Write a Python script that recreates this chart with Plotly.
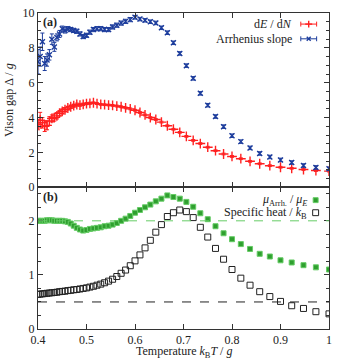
import plotly.graph_objects as go
from plotly.subplots import make_subplots

# ---------------- data ----------------
temperature = [0.4, 0.4045, 0.4091, 0.4138, 0.4186, 0.4235, 0.4286, 0.4337, 0.439, 0.4444,
               0.45, 0.4557, 0.4615, 0.4675, 0.4737, 0.48, 0.4865, 0.4932, 0.5, 0.507,
               0.5143, 0.5217, 0.5294, 0.5373, 0.5455, 0.5538, 0.5625, 0.5714, 0.5806, 0.5902,
               0.6, 0.6102, 0.6207, 0.6316, 0.6429, 0.6545, 0.6667, 0.6792, 0.6923, 0.7059,
               0.72, 0.7347, 0.75, 0.766, 0.7826, 0.8, 0.8182, 0.8372, 0.8571, 0.878,
               0.9, 0.9231, 0.9474, 0.973, 1.0]

dEdN = [3.6, 3.85, 3.7, 3.5, 3.55, 3.8, 3.95, 4.0, 4.1, 4.25,
        4.35, 4.45, 4.55, 4.62, 4.68, 4.75, 4.72, 4.76, 4.8, 4.82,
        4.85, 4.8, 4.76, 4.74, 4.72, 4.7, 4.66, 4.62, 4.56, 4.5,
        4.42, 4.29, 4.15, 4.0, 3.89, 3.74, 3.53, 3.33, 3.15, 2.92,
        2.69, 2.51, 2.3, 2.1, 1.91, 1.77, 1.64, 1.49, 1.35, 1.24,
        1.15, 1.09, 1.02, 0.96, 0.93]
dEdN_err = [0.3, 0.45, 0.3, 0.3, 0.25, 0.25, 0.2, 0.2, 0.18, 0.15,
            0.15, 0.12, 0.1, 0.1, 0.08, 0.08, 0.07, 0.07, 0.06, 0.06,
            0.05, 0.05, 0.05, 0.05, 0.05, 0.05, 0.05, 0.05, 0.05, 0.05,
            0.05, 0.05, 0.05, 0.05, 0.05, 0.05, 0.05, 0.05, 0.05, 0.05,
            0.05, 0.05, 0.05, 0.05, 0.05, 0.05, 0.05, 0.05, 0.05, 0.05,
            0.05, 0.05, 0.05, 0.05, 0.05]

arrhenius = [7.2, 7.5, 8.35, 7.1, 7.3, 7.6, 8.5, 8.05, 8.6, 8.8,
             9.1, 9.0, 9.1, 9.05, 9.0, 8.95, 8.8, 8.65, 8.72, 8.9,
             9.05, 9.1, 9.1, 9.05, 9.05, 9.2, 9.3, 9.42, 9.52, 9.62,
             9.75, 9.65, 9.58, 9.5, 9.43, 9.15, 8.87, 8.29, 7.68, 6.98,
             6.25, 5.39, 4.71, 4.06, 3.48, 2.96, 2.62, 2.26, 1.94, 1.74,
             1.57, 1.42, 1.25, 1.14, 1.06]
arrhenius_err = [0.7, 0.55, 0.5, 0.4, 0.35, 0.3, 0.3, 0.25, 0.2, 0.2,
                 0.15, 0.15, 0.12, 0.12, 0.12, 0.12, 0.12, 0.12, 0.12, 0.12,
                 0.12, 0.12, 0.12, 0.12, 0.12, 0.12, 0.12, 0.12, 0.12, 0.12,
                 0.1, 0.1, 0.1, 0.1, 0.1, 0.1, 0.1, 0.1, 0.1, 0.1,
                 0.1, 0.1, 0.1, 0.1, 0.1, 0.1, 0.1, 0.1, 0.1, 0.1,
                 0.1, 0.1, 0.1, 0.1, 0.1]

mu_ratio = [2.0, 2.0, 2.0, 2.0, 2.01, 2.01, 2.01, 2.0, 2.0, 2.0, 2.0, 1.99,
            1.98, 1.95, 1.91, 1.87, 1.84, 1.82, 1.83, 1.85,
            1.86, 1.87, 1.88, 1.9, 1.91, 1.93, 1.96, 2.0, 2.04, 2.09,
            2.15, 2.2, 2.25, 2.3, 2.36, 2.41, 2.47, 2.44, 2.41, 2.35,
            2.26, 2.14, 2.03, 1.9, 1.77, 1.66, 1.57, 1.48, 1.39, 1.34,
            1.27, 1.23, 1.18, 1.14, 1.10]

specific_heat = [0.64, 0.645, 0.65, 0.655, 0.66, 0.665, 0.67, 0.675, 0.68, 0.69,
                 0.695, 0.70, 0.71, 0.715, 0.725, 0.73, 0.74, 0.75, 0.76, 0.775,
                 0.79, 0.81, 0.83, 0.855, 0.885, 0.92, 0.97, 1.03, 1.09, 1.17,
                 1.26, 1.37, 1.50, 1.64, 1.79, 1.93, 2.08, 2.15, 2.20, 2.17,
                 2.06, 1.88, 1.70, 1.49, 1.29, 1.10, 0.94, 0.81, 0.69, 0.60,
                 0.51, 0.43, 0.38, 0.32, 0.28]

ref_green = 2.0
ref_black = 0.5

x_tickvals = [0.4, 0.5, 0.6, 0.7, 0.8, 0.9, 1.0]
x_ticktext = ["0.4", "0.5", "0.6", "0.7", "0.8", "0.9", "1"]

# ---------------- styles ----------------
RED = "#ff2020"
BLUE = "#1c3c9c"
GREEN = "#2f9f2f"
LGREEN = "#66cc66"
BLACK = "#222222"
FONT = "Liberation Serif, Times New Roman, serif"

W, H = 338, 363
ML, MR, MT, MB = 38, 6, 7, 34
PW, PH = W - ML - MR, H - MT - MB


def px2paper(px, py):
    return (px - ML) / PW, (H - MB - py) / PH


split = (H - MB - 184.6) / PH

fig = make_subplots(rows=2, cols=1, shared_xaxes=True, vertical_spacing=0,
                    row_heights=[1 - split, split])

fig.add_trace(go.Scatter(
    x=temperature, y=dEdN, mode="markers", name="dE/dN",
    error_y=dict(type="data", array=dEdN_err, color=RED, thickness=1, width=2),
    marker=dict(symbol="cross-thin", size=7, color=RED, line=dict(color=RED, width=1.4)),
    showlegend=False), row=1, col=1)

fig.add_trace(go.Scatter(
    x=temperature, y=arrhenius, mode="markers", name="Arrhenius slope",
    error_y=dict(type="data", array=arrhenius_err, color=BLUE, thickness=1, width=2),
    marker=dict(symbol="x-thin", size=5, color=BLUE, line=dict(color=BLUE, width=1.4)),
    showlegend=False), row=1, col=1)

fig.add_trace(go.Scatter(
    x=temperature, y=mu_ratio, mode="markers", name="mu",
    marker=dict(symbol="square", size=5, color=GREEN,
                line=dict(color=LGREEN, width=1)),
    showlegend=False), row=2, col=1)

fig.add_trace(go.Scatter(
    x=temperature, y=specific_heat, mode="markers", name="C",
    marker=dict(symbol="square-open", size=6, color=BLACK, line=dict(color=BLACK, width=1)),
    showlegend=False), row=2, col=1)

# reference lines
fig.add_shape(type="line", xref="x2 domain", yref="y2", x0=0, x1=1,
              y0=ref_green, y1=ref_green, line=dict(color=LGREEN, width=1, dash="dash"))
fig.add_shape(type="line", xref="x2 domain", yref="y2", x0=0, x1=1,
              y0=ref_black, y1=ref_black, line=dict(color=BLACK, width=1, dash="dash"))

axis_common = dict(showline=True, linecolor="#333333", linewidth=1, mirror="allticks",
                   ticks="inside", ticklen=5, tickcolor="#333333", tickwidth=1,
                   showgrid=False, zeroline=False,
                   tickfont=dict(family=FONT, size=12, color="#222222"))

fig.update_xaxes(range=[0.4, 1.0], tickvals=x_tickvals, ticktext=x_ticktext,
                 **axis_common)
fig.update_xaxes(showticklabels=False, row=1, col=1)

fig.update_yaxes(range=[0, 10], tickvals=[0, 2, 4, 6, 8, 10],
                 minor=dict(dtick=0.5, ticks="inside", ticklen=3, tickcolor="#333333"),
                 title=dict(text="Vison gap Δ / <i>g</i>",
                            font=dict(family=FONT, size=12, color="#222222"), standoff=6),
                 row=1, col=1, **axis_common)
fig.update_yaxes(range=[0, 2.62], tickvals=[0, 1, 2],
                 minor=dict(dtick=0.25, ticks="inside", ticklen=3, tickcolor="#333333"),
                 row=2, col=1, **axis_common)

annotations = []
shapes = []


def text_ann(px, py, text, anchor="right", yanchor="middle"):
    xp, yp = px2paper(px, py)
    annotations.append(dict(xref="paper", yref="paper", x=xp, y=yp, text=text,
                            showarrow=False, xanchor=anchor, yanchor=yanchor,
                            font=dict(family=FONT, size=12, color="#222222")))


def line_px(x0, y0, x1, y1, color, width=1):
    a, b = px2paper(x0, y0)
    c, d = px2paper(x1, y1)
    shapes.append(dict(type="line", xref="paper", yref="paper", x0=a, y0=b, x1=c, y1=d,
                       line=dict(color=color, width=width)))


def errbar_sample(cx, cy, color):
    line_px(cx - 8, cy, cx + 8, cy, color)
    line_px(cx - 8, cy - 2.5, cx - 8, cy + 2.5, color)
    line_px(cx + 8, cy - 2.5, cx + 8, cy + 2.5, color)


# x axis title
text_ann(185, 352, "Temperature <i>k</i><sub>B</sub><i>T</i> / <i>g</i>", anchor="center")

# panel labels
text_ann(41, 16, "<b>(a)</b>", anchor="left")
text_ann(41, 195, "<b>(b)</b>", anchor="left")

# legend top
text_ann(297, 18.3, "d<i>E</i> / d<i>N</i>")
errbar_sample(311.5, 18.3, RED)
line_px(311.5 - 3.5, 18.3, 311.5 + 3.5, 18.3, RED, 1.4)
line_px(311.5, 18.3 - 3.5, 311.5, 18.3 + 3.5, RED, 1.4)

text_ann(297, 33.3, "Arrhenius slope")
errbar_sample(311.5, 33.3, BLUE)
line_px(309.5, 31.3, 313.5, 35.3, BLUE, 1.4)
line_px(309.5, 35.3, 313.5, 31.3, BLUE, 1.4)

# legend bottom
text_ann(311.5, 197.7, "<i>μ</i><sub>Arrh.</sub> / <i>μ</i><sub><i>E</i></sub>")
a, b = px2paper(316, 195.2)
c, d = px2paper(321, 200.2)
shapes.append(dict(type="rect", xref="paper", yref="paper", x0=a, y0=b, x1=c, y1=d,
                   fillcolor=GREEN, line=dict(color=LGREEN, width=1)))

text_ann(311.5, 210.5, "Specific heat / <i>k</i><sub>B</sub>")
a, b = px2paper(315.5, 207.5)
c, d = px2paper(321.5, 213.5)
shapes.append(dict(type="rect", xref="paper", yref="paper", x0=a, y0=b, x1=c, y1=d,
                   fillcolor="rgba(0,0,0,0)", line=dict(color=BLACK, width=1)))

for s in shapes:
    fig.add_shape(**s)

fig.update_layout(width=W, height=H, margin=dict(l=ML, r=MR, t=MT, b=MB),
                  plot_bgcolor="white", paper_bgcolor="white",
                  annotations=annotations, showlegend=False, hovermode=False,
                  font=dict(family=FONT, size=12, color="#222222"))

fig.write_html("out.html", config={"displayModeBar": False, "staticPlot": True},
               post_script="document.body.style.margin='0';document.body.style.overflow='hidden';")
